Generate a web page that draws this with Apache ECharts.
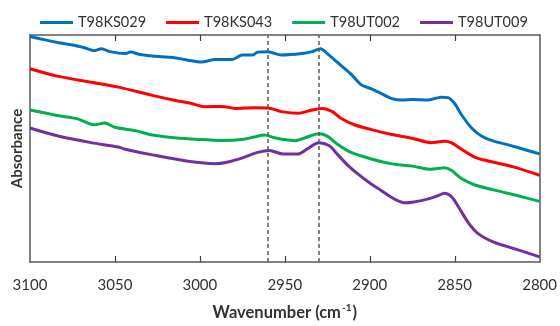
<!DOCTYPE html>
<html>
<head>
<meta charset="utf-8">
<script src="https://cdn.jsdelivr.net/npm/echarts@6/dist/echarts.min.js"></script>
<style>html,body{margin:0;padding:0;background:#fff}#c{width:560px;height:326px}</style>
</head>
<body>
<div id="c"></div>
<script>
const seriesNames = ['T98KS029', 'T98KS043', 'T98UT002', 'T98UT009'];
const xTicks = [3100, 3050, 3000, 2950, 2900, 2850, 2800];
const bandMarkers = [2960, 2930];

const T98KS029 = [[3100,2.305],[3091,2.27],[3083,2.24],[3074,2.215],[3068,2.19],[3062,2.16],[3058,2.18],[3053,2.15],[3044,2.13],[3041,2.145],[3035,2.12],[3028,2.105],[3015,2.087],[3007,2.063],[2999,2.045],[2991,2.07],[2981,2.07],[2975,2.115],[2969,2.115],[2966,2.145],[2960,2.15],[2952,2.115],[2940,2.13],[2934,2.15],[2929,2.18],[2925,2.13],[2919,2.04],[2911,1.92],[2905,1.81],[2899,1.77],[2893,1.72],[2887,1.67],[2881,1.655],[2875,1.66],[2866,1.655],[2858,1.685],[2854,1.68],[2850,1.62],[2846,1.505],[2840,1.37],[2834,1.285],[2827,1.235],[2819,1.20],[2815,1.18],[2807,1.14],[2800,1.105]];
const T98KS043 = [[3100,1.975],[3084,1.90],[3064,1.837],[3048,1.787],[3028,1.703],[3015,1.653],[3005,1.62],[2997,1.587],[2987,1.59],[2979,1.57],[2968,1.577],[2960,1.575],[2952,1.537],[2942,1.52],[2934,1.553],[2928,1.57],[2922,1.537],[2917,1.47],[2909,1.403],[2899,1.353],[2887,1.303],[2875,1.265],[2864,1.22],[2856,1.235],[2852,1.22],[2846,1.153],[2838,1.07],[2827,1.02],[2815,0.97],[2800,0.887]];
const T98UT002 = [[3100,1.553],[3084,1.497],[3072,1.463],[3062,1.403],[3056,1.42],[3050,1.377],[3038,1.343],[3028,1.297],[3015,1.27],[3001,1.253],[2987,1.243],[2975,1.253],[2968,1.277],[2962,1.297],[2956,1.27],[2951,1.253],[2944,1.24],[2938,1.27],[2930,1.31],[2925,1.287],[2919,1.203],[2911,1.12],[2899,1.053],[2887,1.003],[2875,0.98],[2864,0.947],[2856,0.963],[2852,0.937],[2846,0.853],[2838,0.787],[2827,0.737],[2815,0.687],[2800,0.62]];
const T98UT009 = [[3100,1.37],[3084,1.29],[3064,1.22],[3048,1.175],[3044,1.153],[3028,1.095],[3007,1.03],[2991,1.005],[2984,1.02],[2974,1.07],[2966,1.12],[2959,1.14],[2951,1.103],[2942,1.105],[2937,1.153],[2930,1.22],[2924,1.19],[2919,1.10],[2913,0.99],[2907,0.90],[2901,0.82],[2895,0.75],[2889,0.68],[2884,0.63],[2879,0.605],[2875,0.61],[2866,0.643],[2860,0.677],[2856,0.703],[2852,0.67],[2848,0.57],[2842,0.403],[2836,0.287],[2827,0.203],[2815,0.137],[2800,0.053]];

const seriesData = [T98KS029, T98KS043, T98UT002, T98UT009];
const colors = ['#0070C0', '#FF0000', '#00B050', '#7030A0'];
const FONT = 'Lato';
const AXIS = '#595959';
const Y_MIN = 0, Y_MAX = 2.32;

const chart = echarts.init(document.getElementById('c'), null, {renderer: 'canvas'});
const series = seriesNames.map((name, i) => ({
  name: name,
  type: 'line',
  data: seriesData[i],
  symbol: 'none',
  showSymbol: false,
  smooth: 0.3,
  lineStyle: {color: colors[i], width: 3},
  itemStyle: {color: colors[i]},
  z: 3
}));
series[0].markLine = {
  silent: true,
  symbol: ['none', 'none'],
  label: {show: false},
  lineStyle: {color: AXIS, type: [4, 3], width: 1.5},
  data: bandMarkers.map(v => ({xAxis: v}))
};

chart.setOption({
  animation: false,
  backgroundColor: '#fff',
  textStyle: {fontFamily: FONT},
  legend: {
    data: seriesNames,
    icon: 'rect',
    left: 35, top: 10,
    itemWidth: 33, itemHeight: 3, itemGap: 20,
    textStyle: {fontFamily: FONT, fontSize: 14.5, color: '#333'}
  },
  grid: {left: 30, right: 20, top: 35, bottom: 59, containLabel: false},
  xAxis: [{
    type: 'value', min: 2800, max: 3100, interval: 50, inverse: true,
    position: 'bottom',
    name: '{a|Wavenumber (cm}{s|-1}{a|)}', nameLocation: 'middle', nameGap: 41,
    nameTextStyle: {fontFamily: FONT, fontSize: 16, fontWeight: 'bold', color: '#333',
      rich: {
        a: {fontFamily: FONT, fontSize: 16.5, fontWeight: 'bold', color: '#333', lineHeight: 18, verticalAlign: 'bottom'},
        s: {fontFamily: FONT, fontSize: 10, fontWeight: 'bold', color: '#333', lineHeight: 18, verticalAlign: 'top', padding: [0, 1, 0, 1]}
      }},
    axisLine: {show: true, onZero: false, lineStyle: {color: AXIS, width: 1.5}},
    axisTick: {show: false},
    axisLabel: {margin: 16, fontFamily: FONT, fontSize: 15, color: '#333',
      formatter: v => xTicks.includes(v) ? String(v) : ''},
    splitLine: {show: false}
  }, {
    type: 'value', min: 2800, max: 3100, interval: 50, inverse: true,
    position: 'top',
    axisLine: {show: true, onZero: false, lineStyle: {color: AXIS, width: 1.5}},
    axisTick: {show: false},
    axisLabel: {show: false},
    splitLine: {show: false}
  }],
  yAxis: [{
    type: 'value', min: Y_MIN, max: Y_MAX,
    name: 'Absorbance', nameLocation: 'middle', nameGap: 5,
    nameTextStyle: {fontFamily: FONT, fontSize: 15, fontWeight: 'bold', color: '#333'},
    axisLine: {show: true, onZero: false, lineStyle: {color: AXIS, width: 1.5}},
    axisTick: {show: false},
    axisLabel: {show: false},
    splitLine: {show: false}
  }, {
    type: 'value', min: Y_MIN, max: Y_MAX, position: 'right',
    axisLine: {show: true, onZero: false, lineStyle: {color: AXIS, width: 1.5}},
    axisTick: {show: false},
    axisLabel: {show: false},
    splitLine: {show: false}
  }],
  series: series
});

// inward tick marks on the bottom and top frame edges, placed through the axis scale
const yBottom = chart.convertToPixel({yAxisIndex: 0}, Y_MIN);
const yTop = chart.convertToPixel({yAxisIndex: 0}, Y_MAX);
const tickGraphics = [];
xTicks.slice(1, -1).forEach(v => {
  const x = Math.round(chart.convertToPixel({xAxisIndex: 0}, v)) + 0.5;
  tickGraphics.push({type: 'line', silent: true, z: 100,
    shape: {x1: x, y1: yBottom, x2: x, y2: yBottom - 6},
    style: {stroke: '#404040', lineWidth: 1.2}});
  tickGraphics.push({type: 'line', silent: true, z: 100,
    shape: {x1: x, y1: yTop, x2: x, y2: yTop + 6},
    style: {stroke: '#404040', lineWidth: 1.2}});
});
chart.setOption({graphic: tickGraphics});
</script>
</body>
</html>
